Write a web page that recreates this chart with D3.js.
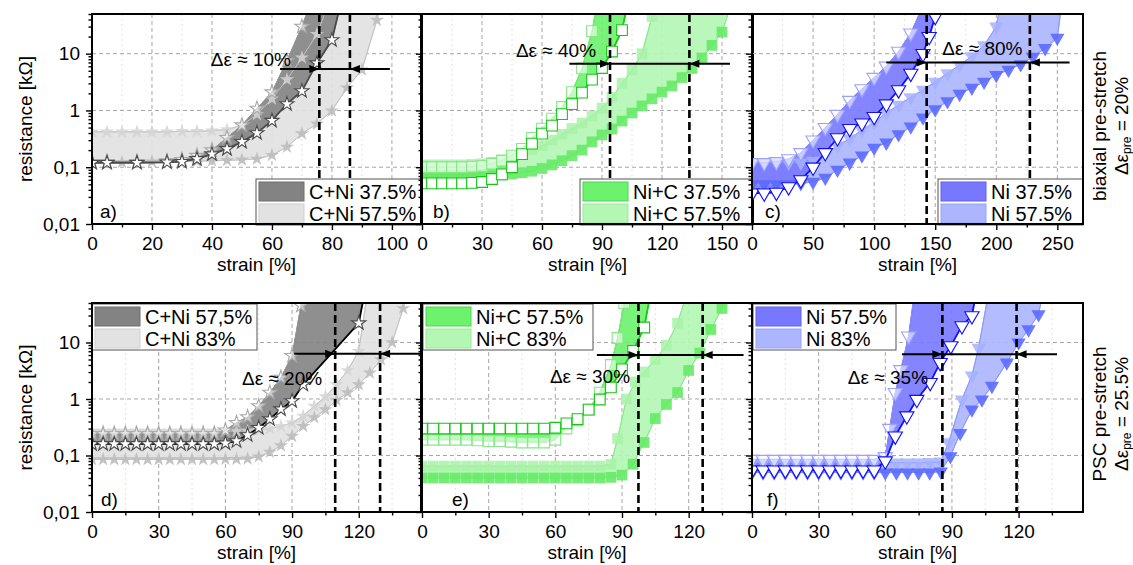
<!DOCTYPE html>
<html>
<head>
<meta charset="utf-8">
<script src="https://cdn.jsdelivr.net/npm/d3@7"></script>
<style>
  body { margin: 0; background: #fff; }
  text { font-family: "Liberation Sans", Arial, sans-serif; fill: #000; }
</style>
</head>
<body>
<svg id="chart" width="1133" height="565"></svg>
<script>
// ---- axes ----
const yDomain = [0.01, 50];
const yTickValues = [0.01, 0.1, 1, 10];
const yTickLabels = ["0,01", "0,1", "1", "10"];
const yGrid = [0.1, 1, 10];

const xTicksA = [0, 20, 40, 60, 80, 100];
const xMinorA = [10, 30, 50, 70, 90];
const xTicksB = [0, 30, 60, 90, 120, 150];
const xMinorB = [15, 45, 75, 105, 135];
const xTicksC = [0, 50, 100, 150, 200, 250];
const xMinorC = [25, 75, 125, 175, 225];
const xTicksLow = [0, 30, 60, 90, 120];
const xMinorLow = [15, 45, 75, 105, 135];

// ---- data: [strain %, resistance kOhm] ----
// a) biaxial, C+Ni
const aDarkUp = [[0,0.125],[5,0.125],[15,0.125],[25,0.128],[30,0.135],[35,0.16],[40,0.2],[45,0.33],[50,0.55],[55,1.08],[60,2.1],[65,7.5],[70,30],[73,80]];
const aDarkLo = [[0,0.12],[5,0.12],[15,0.12],[25,0.122],[30,0.125],[35,0.14],[40,0.17],[45,0.21],[50,0.28],[55,0.4],[60,0.66],[65,1.3],[70,2.2],[75,6.8],[80,17.4],[83,80]];
const aLightUp = [[0,0.42],[5,0.42],[10,0.42],[15,0.42],[20,0.42],[25,0.42],[30,0.43],[35,0.43],[40,0.44],[45,0.46],[50,0.55],[55,0.85],[60,1.6],[65,3.5],[70,8.5],[75,22],[79,80]];
const aLightLo = [[0,0.12],[5,0.12],[10,0.122],[15,0.123],[20,0.125],[25,0.125],[30,0.127],[35,0.128],[40,0.13],[45,0.132],[50,0.135],[55,0.14],[60,0.163],[65,0.227],[70,0.39],[75,0.58],[80,0.99],[85,2.5],[90,5.2],[95,39],[97,90]];

// b) biaxial, Ni+C
const bDarkUp = [[0,0.1],[5,0.1],[10,0.1],[15,0.1],[20,0.1],[25,0.102],[30,0.105],[35,0.115],[40,0.13],[45,0.16],[50,0.21],[55,0.33],[60,0.48],[65,0.72],[70,1.15],[75,2.1],[80,5.5],[85,25],[88,90]];
const bDarkLo = [[0,0.052],[5,0.052],[10,0.052],[15,0.052],[20,0.052],[25,0.053],[30,0.055],[35,0.062],[40,0.075],[45,0.1],[50,0.17],[55,0.26],[60,0.39],[65,0.54],[70,0.86],[75,1.29],[80,2.06],[85,3.5],[90,5.6],[95,10.9],[100,26],[103,80]];
const bLightUp = [[0,0.11],[5,0.11],[10,0.11],[15,0.11],[20,0.11],[25,0.112],[30,0.115],[35,0.122],[40,0.135],[45,0.155],[50,0.18],[55,0.205],[60,0.24],[65,0.3],[70,0.38],[75,0.48],[80,0.6],[85,0.8],[90,1.1],[95,1.7],[100,3.0],[105,5.2],[110,10],[115,45],[117,90]];
const bLightLo = [[0,0.065],[5,0.065],[10,0.066],[15,0.067],[20,0.068],[25,0.069],[30,0.07],[35,0.071],[40,0.073],[45,0.076],[50,0.08],[55,0.085],[60,0.095],[65,0.11],[70,0.13],[75,0.16],[80,0.2],[85,0.28],[90,0.37],[95,0.47],[100,0.65],[105,0.9],[110,1.2],[115,1.6],[120,2.1],[125,2.7],[130,3.8],[135,5.5],[140,8.4],[145,14],[150,24],[155,80]];

// c) biaxial, Ni
const cDarkUp = [[0,0.12],[10,0.12],[20,0.125],[30,0.14],[40,0.18],[50,0.3],[60,0.5],[70,0.85],[80,1.5],[90,2.4],[100,3.8],[110,6],[120,11],[130,23],[140,70]];
const cDarkLo = [[0,0.035],[10,0.035],[20,0.036],[30,0.045],[40,0.06],[50,0.1],[60,0.18],[70,0.33],[80,0.48],[90,0.6],[100,0.78],[110,1.3],[120,2.3],[130,4.5],[140,10],[145,20],[150,45],[153,90]];
const cLightUp = [[0,0.12],[10,0.12],[20,0.12],[30,0.12],[40,0.12],[50,0.13],[60,0.17],[70,0.24],[80,0.32],[90,0.45],[100,0.62],[110,0.9],[120,1.25],[130,1.7],[140,2.3],[150,3.2],[160,4.5],[170,6.3],[180,9],[190,14],[200,30],[204,90]];
const cLightLo = [[0,0.05],[10,0.05],[20,0.05],[30,0.05],[40,0.052],[50,0.055],[60,0.065],[70,0.09],[80,0.12],[90,0.16],[100,0.22],[110,0.27],[120,0.38],[130,0.52],[140,0.75],[150,1.05],[160,1.45],[170,1.95],[180,2.5],[190,3.2],[200,4.2],[210,5.2],[220,6.5],[230,8.8],[240,12.5],[250,19],[254,90]];

// d) PSC, C+Ni
const dDarkUp = [[0,0.24],[5,0.24],[10,0.24],[15,0.24],[20,0.24],[25,0.24],[30,0.24],[35,0.24],[40,0.24],[45,0.24],[50,0.24],[55,0.24],[60,0.28],[65,0.38],[70,0.48],[75,0.75],[80,1.3],[85,2.4],[90,5.8],[94,45],[96,90]];
const dDarkLo = [[0,0.16],[5,0.16],[10,0.16],[15,0.16],[20,0.16],[25,0.16],[30,0.16],[35,0.16],[40,0.16],[45,0.16],[50,0.16],[55,0.16],[60,0.165],[65,0.18],[70,0.23],[75,0.31],[80,0.44],[85,0.66],[90,0.92],[95,1.8],[120,22],[123,90]];
const dLightUp = [[0,0.27],[5,0.27],[10,0.27],[15,0.27],[20,0.27],[25,0.27],[30,0.27],[35,0.27],[40,0.27],[45,0.27],[50,0.27],[55,0.27],[60,0.27],[65,0.27],[70,0.27],[75,0.28],[80,0.3],[85,0.33],[90,0.38],[95,0.5],[100,0.75],[105,1.1],[110,1.8],[115,3.2],[120,7],[124,80]];
const dLightLo = [[0,0.085],[5,0.085],[10,0.085],[15,0.085],[20,0.085],[25,0.085],[30,0.085],[35,0.085],[40,0.085],[45,0.085],[50,0.085],[55,0.085],[60,0.086],[65,0.086],[70,0.087],[75,0.095],[80,0.115],[85,0.15],[90,0.22],[95,0.33],[100,0.47],[105,0.65],[110,0.95],[115,1.3],[120,1.8],[125,2.9],[130,5],[135,10],[140,40],[142,90]];

// e) PSC, Ni+C
const eDarkUp = [[0,0.19],[5,0.19],[10,0.19],[15,0.19],[20,0.19],[25,0.185],[30,0.18],[35,0.18],[40,0.175],[45,0.17],[50,0.17],[55,0.17],[60,0.19],[65,0.3],[70,0.42],[75,0.65],[80,1.3],[85,4],[88,12],[91,50],[92,90]];
const eDarkLo = [[0,0.3],[5,0.3],[10,0.3],[15,0.3],[20,0.3],[25,0.3],[30,0.3],[35,0.3],[40,0.3],[45,0.3],[50,0.3],[55,0.3],[60,0.31],[65,0.37],[70,0.44],[75,0.65],[80,0.98],[85,1.6],[90,3.35],[95,7.1],[100,18.4],[103,80]];
const eLightUp = [[0,0.065],[5,0.065],[10,0.065],[15,0.065],[20,0.065],[25,0.065],[30,0.065],[35,0.065],[40,0.065],[45,0.065],[50,0.065],[55,0.065],[60,0.065],[65,0.065],[70,0.065],[75,0.065],[80,0.065],[85,0.07],[88,0.2],[92,1.0],[96,2.0],[100,3.0],[105,5.0],[110,9],[115,22],[119,70]];
const eLightLo = [[0,0.04],[5,0.04],[10,0.04],[15,0.04],[20,0.04],[25,0.04],[30,0.04],[35,0.04],[40,0.04],[45,0.04],[50,0.04],[55,0.04],[60,0.04],[65,0.04],[70,0.04],[75,0.04],[80,0.04],[85,0.041],[90,0.045],[95,0.07],[100,0.17],[105,0.45],[110,0.8],[115,1.3],[120,3.2],[125,6.5],[130,17],[135,40],[137,90]];

// f) PSC, Ni
const fDarkUp = [[0,0.085],[5,0.085],[10,0.085],[15,0.085],[20,0.085],[25,0.085],[30,0.085],[35,0.085],[40,0.085],[45,0.085],[50,0.085],[55,0.085],[60,0.095],[62,0.3],[64.5,1.3],[67,3.3],[70.5,13],[73,70]];
const fDarkLo = [[0,0.055],[5,0.055],[10,0.055],[15,0.055],[20,0.055],[25,0.055],[30,0.055],[35,0.055],[40,0.055],[45,0.055],[50,0.055],[55,0.055],[60,0.08],[64.5,0.22],[69.7,0.5],[74.2,0.98],[80.2,1.95],[84.7,4.4],[89.5,8.7],[94.5,19.7],[99,29.6],[101,80]];
const fLightUp = [[0,0.075],[5,0.075],[10,0.075],[15,0.075],[20,0.075],[25,0.075],[30,0.075],[35,0.075],[40,0.075],[45,0.075],[50,0.075],[55,0.075],[60,0.075],[65,0.075],[70,0.075],[75,0.075],[80,0.076],[85,0.078],[88.5,0.17],[94.5,0.98],[99,2.6],[102,8],[106,60]];
const fLightLo = [[0,0.05],[5,0.05],[10,0.05],[15,0.05],[20,0.05],[25,0.05],[30,0.05],[35,0.05],[40,0.05],[45,0.05],[50,0.05],[55,0.05],[60,0.05],[65,0.05],[70,0.05],[75,0.05],[80,0.05],[85,0.052],[89.3,0.097],[93.7,0.25],[99,0.65],[103.5,0.98],[108,1.7],[114.7,4.4],[120,10],[124.5,17],[129,31.6],[131,80]];

// threshold lines (strain) and arrow [from, to, resistance]
const dashA = [75.8, 86], arrowA = [62.7, 99.3, 5.4];
const dashB = [94, 133.7], arrowB = [73.7, 154, 6.65];
const dashC = [143, 227.5], arrowC = [110, 260, 7];
const dashD = [109.4, 129.6], arrowD = [91, 148, 6.3];
const dashE = [97.4, 126.3], arrowE = [78.7, 144.7, 6.0];
const dashF = [85.7, 119.1], arrowF = [67.5, 137.3, 6.2];

const legendA = ["C+Ni 37.5%", "C+Ni 57.5%"];
const legendB = ["Ni+C 37.5%", "Ni+C 57.5%"];
const legendC = ["Ni 37.5%", "Ni 57.5%"];
const legendD = ["C+Ni 57,5%", "C+Ni 83%"];
const legendE = ["Ni+C 57.5%", "Ni+C 83%"];
const legendF = ["Ni 57.5%", "Ni 83%"];

// ---- styles ----
const gray = { dark: "#838383", light: "#e2e2e2", darkEdge: "#6e6e6e", lightEdge: "#d0d0d0",
  upStroke: "#a8a8a8", loStroke: "#4a4a4a", upLine: "#9a9a9a", loLine: "#4a4a4a",
  lightUpFill: "#d4d4d4", lightLoFill: "#bcbcbc", lightLine: "#c4c4c4" };
const green = { dark: "#6cf26c", light: "#b4f6b4", darkEdge: "#4cd84c", lightEdge: "#9ce89c",
  upStroke: "#86e886", loStroke: "#14c814", upLine: "#7ee67e", loLine: "#14c814",
  lightUpFill: "#a8f2a8", lightLoFill: "#66ea66", lightLine: "#88ea88" };
const blue = { dark: "#7878ff", light: "#abb6ff", darkEdge: "#6060f0", lightEdge: "#98a4f8",
  upStroke: "#9aa2ff", loStroke: "#1010ff", upLine: "#8a90ff", loLine: "#1010ff",
  lightUpFill: "#a4b0ff", lightLoFill: "#5a6aff", lightLine: "#8a98ff" };

const rows = [{ top: 14, bottom: 224 }, { top: 303, bottom: 512 }];
const fontSize = "19px";

const panels = [
  { id: "a", row: 0, x0: 92, x1: 421, xMax: 109.7, xTicks: xTicksA, xMinor: xMinorA, showY: true,
    dark: [aDarkUp, aDarkLo], light: [aLightUp, aLightLo], col: gray, symbol: "star",
    dash: dashA, arrow: arrowA, note: "Δε ≈ 10%", noteAt: [53, 6.1],
    legend: legendA, legendBox: [256, 179, 165], label: "a)", labelDx: 8 },
  { id: "b", row: 0, x0: 422, x1: 753, xMax: 165.5, xTicks: xTicksB, xMinor: xMinorB, showY: false,
    dark: [bDarkUp, bDarkLo], light: [bLightUp, bLightLo], col: green, symbol: "square",
    dash: dashB, arrow: arrowB, note: "Δε ≈ 40%", noteAt: [67, 8.7],
    legend: legendB, legendBox: [580, 179, 173], label: "b)", labelDx: 11 },
  { id: "c", row: 0, x0: 752, x1: 1083, xMax: 271, xTicks: xTicksC, xMinor: xMinorC, showY: false,
    dark: [cDarkUp, cDarkLo], light: [cLightUp, cLightLo], col: blue, symbol: "tri",
    dash: dashC, arrow: arrowC, note: "Δε ≈ 80%", noteAt: [188.6, 9.5],
    legend: legendC, legendBox: [938, 179, 145], label: "c)", labelDx: 13 },
  { id: "d", row: 1, x0: 92, x1: 421, xMax: 148, xTicks: xTicksLow, xMinor: xMinorLow, showY: true,
    dark: [dDarkUp, dDarkLo], light: [dLightUp, dLightLo], col: Object.assign({}, gray, { loLine: "#000" }), symbol: "star",
    dash: dashD, arrow: arrowD, note: "Δε ≈ 20%", noteAt: [85.5, 1.77],
    legend: legendD, legendBox: [92, 304, 165], label: "d)", labelDx: 9 },
  { id: "e", row: 1, x0: 422, x1: 752, xMax: 148.5, xTicks: xTicksLow, xMinor: xMinorLow, showY: false,
    dark: [eDarkUp, eDarkLo], light: [eLightUp, eLightLo], col: green, symbol: "square",
    dash: dashE, arrow: arrowE, note: "Δε ≈ 30%", noteAt: [75.6, 1.92],
    legend: legendE, legendBox: [423, 304, 170], label: "e)", labelDx: 30 },
  { id: "f", row: 1, x0: 752, x1: 1083, xMax: 149, xTicks: xTicksLow, xMinor: xMinorLow, showY: false,
    dark: [fDarkUp, fDarkLo], light: [fLightUp, fLightLo], col: blue, symbol: "tri",
    dash: dashF, arrow: arrowF, note: "Δε ≈ 35%", noteAt: [61.2, 1.84],
    legend: legendF, legendBox: [753, 304, 143], label: "f)", labelDx: 15 }
];

const symbols = {
  star: { type: d3.symbolStar, size: 62, rot: "" },
  square: { type: d3.symbolSquare, size: 115, rot: "" },
  tri: { type: d3.symbolTriangle, size: 88, rot: " rotate(180)" }
};

const svg = d3.select("#chart");

function yMinorTicks() {
  const out = [];
  [0.01, 0.1, 1, 10].forEach(dec => {
    for (let k = 2; k <= 9; k++) if (k * dec <= yDomain[1]) out.push(k * dec);
  });
  return out;
}

function drawPanel(p) {
  const { top, bottom } = rows[p.row];
  const c = p.col;
  const x = d3.scaleLinear().domain([0, p.xMax]).range([p.x0, p.x1]);
  const y = d3.scaleLog().domain(yDomain).range([bottom, top]);
  const g = svg.append("g").attr("class", "panel-" + p.id);

  const clipId = "clip-" + p.id;
  g.append("clipPath").attr("id", clipId)
    .append("rect")
    .attr("x", p.x0).attr("y", top)
    .attr("width", p.x1 - p.x0).attr("height", bottom - top);

  // grid
  const grid = g.append("g");
  grid.selectAll(".gxm").data(p.xMinor.filter(v => v < p.xMax)).join("line")
    .attr("x1", d => x(d)).attr("x2", d => x(d)).attr("y1", top).attr("y2", bottom)
    .attr("stroke", "#e2e2e2").attr("stroke-dasharray", "2,3");
  grid.selectAll(".gx").data(p.xTicks.filter(v => v > 0 && v < p.xMax)).join("line")
    .attr("x1", d => x(d)).attr("x2", d => x(d)).attr("y1", top).attr("y2", bottom)
    .attr("stroke", "#a6a6a6").attr("stroke-dasharray", "4,3");
  grid.selectAll(".gy").data(yGrid).join("line")
    .attr("x1", p.x0).attr("x2", p.x1).attr("y1", d => y(d)).attr("y2", d => y(d))
    .attr("stroke", "#a6a6a6").attr("stroke-dasharray", "4,3");

  const plot = g.append("g").attr("clip-path", `url(#${clipId})`);
  const band = d3.line().x(d => x(d[0])).y(d => y(d[1])).curve(d3.curveLinearClosed);
  const line = d3.line().x(d => x(d[0])).y(d => y(d[1]));
  const sym = symbols[p.symbol];
  const shape = d3.symbol(sym.type, sym.size);

  // bands: light sample behind dark sample
  plot.append("path")
    .attr("d", band(p.light[0].concat(p.light[1].slice().reverse())))
    .attr("fill", c.light).attr("fill-opacity", 0.92)
    .attr("stroke", c.lightEdge).attr("stroke-width", 1);
  plot.append("path")
    .attr("d", band(p.dark[0].concat(p.dark[1].slice().reverse())))
    .attr("fill", c.dark).attr("fill-opacity", 0.9)
    .attr("stroke", c.darkEdge).attr("stroke-width", 1);

  function markers(data, fill, stroke, opacity) {
    plot.append("g").selectAll("path").data(data).join("path")
      .attr("d", shape)
      .attr("transform", d => `translate(${x(d[0])},${y(d[1])})${sym.rot}`)
      .attr("fill", fill).attr("fill-opacity", opacity)
      .attr("stroke", stroke).attr("stroke-width", stroke === "none" ? 0 : 1.1);
  }

  // light sample: filled markers
  plot.append("path").attr("d", line(p.light[0])).attr("fill", "none").attr("stroke", c.lightLine).attr("stroke-width", 1);
  plot.append("path").attr("d", line(p.light[1])).attr("fill", "none").attr("stroke", c.lightLine).attr("stroke-width", 1);
  markers(p.light[0], c.lightUpFill, "none", 0.85);
  markers(p.light[1], c.lightLoFill, "none", 0.9);

  // dark sample: open markers
  plot.append("path").attr("d", line(p.dark[0])).attr("fill", "none").attr("stroke", c.upLine).attr("stroke-width", 1);
  markers(p.dark[0], "#fff", c.upStroke, 0.55);
  plot.append("path").attr("d", line(p.dark[1])).attr("fill", "none").attr("stroke", c.loLine).attr("stroke-width", 1.8);
  markers(p.dark[1], "#fff", c.loStroke, 1);

  // threshold lines
  plot.selectAll(".dash").data(p.dash).join("line")
    .attr("x1", d => x(d)).attr("x2", d => x(d)).attr("y1", top).attr("y2", bottom)
    .attr("stroke", "#000").attr("stroke-width", 2.6).attr("stroke-dasharray", "8,4");

  // double arrow
  const [from, to, r] = p.arrow;
  const ay = y(r);
  plot.append("line")
    .attr("x1", x(from)).attr("x2", x(to)).attr("y1", ay).attr("y2", ay)
    .attr("stroke", "#000").attr("stroke-width", 2);
  const tipL = x(p.dash[0]), tipR = x(p.dash[1]);
  plot.append("path")
    .attr("d", `M${tipL},${ay}L${tipL - 10},${ay - 4}L${tipL - 10},${ay + 4}Z`)
    .attr("fill", "#000");
  plot.append("path")
    .attr("d", `M${tipR},${ay}L${tipR + 10},${ay - 4}L${tipR + 10},${ay + 4}Z`)
    .attr("fill", "#000");

  g.append("text")
    .attr("x", x(p.noteAt[0])).attr("y", y(p.noteAt[1]))
    .attr("text-anchor", "middle").attr("font-size", fontSize)
    .text(p.note);

  g.append("text")
    .attr("x", p.x0 + p.labelDx).attr("y", bottom - 6)
    .attr("font-size", fontSize)
    .text(p.label);

  // legend
  const [lx, ly, lw] = p.legendBox;
  const lg = g.append("g").attr("transform", `translate(${lx},${ly})`);
  lg.append("rect").attr("width", lw).attr("height", 46)
    .attr("fill", "#fff").attr("stroke", "#555").attr("stroke-width", 1);
  const items = lg.selectAll(".item").data(p.legend).join("g")
    .attr("transform", (d, i) => `translate(0,${i * 22})`);
  items.append("rect")
    .attr("x", 3).attr("y", 3).attr("width", 45).attr("height", 19)
    .attr("fill", (d, i) => i === 0 ? c.dark : c.light)
    .attr("stroke", (d, i) => i === 0 ? c.darkEdge : c.lightEdge);
  items.append("text")
    .attr("x", 53).attr("y", 20)
    .attr("font-size", "20px")
    .text(d => d);

  // frame
  g.append("rect")
    .attr("x", p.x0).attr("y", top)
    .attr("width", p.x1 - p.x0).attr("height", bottom - top)
    .attr("fill", "none").attr("stroke", "#000").attr("stroke-width", 2);

  // axes
  const xAxis = g.append("g").attr("transform", `translate(0,${bottom})`)
    .call(d3.axisBottom(x).tickValues(p.xTicks).tickSize(6).tickPadding(7).tickFormat(d3.format("d")));
  const xMinorAxis = g.append("g").attr("transform", `translate(0,${bottom})`)
    .call(d3.axisBottom(x).tickValues(p.xMinor.filter(v => v < p.xMax)).tickSize(3.5).tickFormat(""));
  const yAxis = g.append("g").attr("transform", `translate(${p.x0},0)`)
    .call(d3.axisLeft(y).tickValues(yTickValues).tickSize(6).tickPadding(6)
      .tickFormat((d, i) => p.showY ? yTickLabels[i] : ""));
  const yMinorAxis = g.append("g").attr("transform", `translate(${p.x0},0)`)
    .call(d3.axisLeft(y).tickValues(yMinorTicks()).tickSize(3.5).tickFormat(""));
  [xAxis, xMinorAxis, yAxis, yMinorAxis].forEach(a => {
    a.select(".domain").remove();
    a.selectAll("line").attr("stroke", "#000").attr("stroke-width", 1.4);
    a.selectAll("text").attr("font-size", fontSize).attr("fill", "#000")
      .attr("font-family", '"Liberation Sans", Arial, sans-serif');
  });

  g.append("text")
    .attr("x", (p.x0 + p.x1) / 2).attr("y", bottom + 47)
    .attr("text-anchor", "middle").attr("font-size", fontSize)
    .text("strain [%]");
}

panels.forEach(drawPanel);

// y titles
rows.forEach(r => {
  svg.append("text")
    .attr("transform", `translate(27,${(r.top + r.bottom) / 2}) rotate(-90)`)
    .attr("text-anchor", "middle").attr("dominant-baseline", "middle")
    .attr("font-size", fontSize)
    .text("resistance [kΩ]");
});

// right side row descriptions
const rowNotes = [["biaxial pre-stretch", "20%"], ["PSC pre-stretch", "25.5%"]];
rowNotes.forEach(([title, value], i) => {
  const cy = i === 0 ? 126 : 414;
  svg.append("text")
    .attr("transform", `translate(1101,${cy}) rotate(-90)`)
    .attr("text-anchor", "middle").attr("dominant-baseline", "middle")
    .attr("font-size", fontSize)
    .text(title);
  const t = svg.append("text")
    .attr("transform", `translate(1123,${cy}) rotate(-90)`)
    .attr("text-anchor", "middle").attr("dominant-baseline", "middle")
    .attr("font-size", fontSize);
  t.append("tspan").text("Δε");
  t.append("tspan").attr("font-size", "12px").attr("dy", 5).text("pre");
  t.append("tspan").attr("dy", -5).text(" = " + value);
});
</script>
</body>
</html>
